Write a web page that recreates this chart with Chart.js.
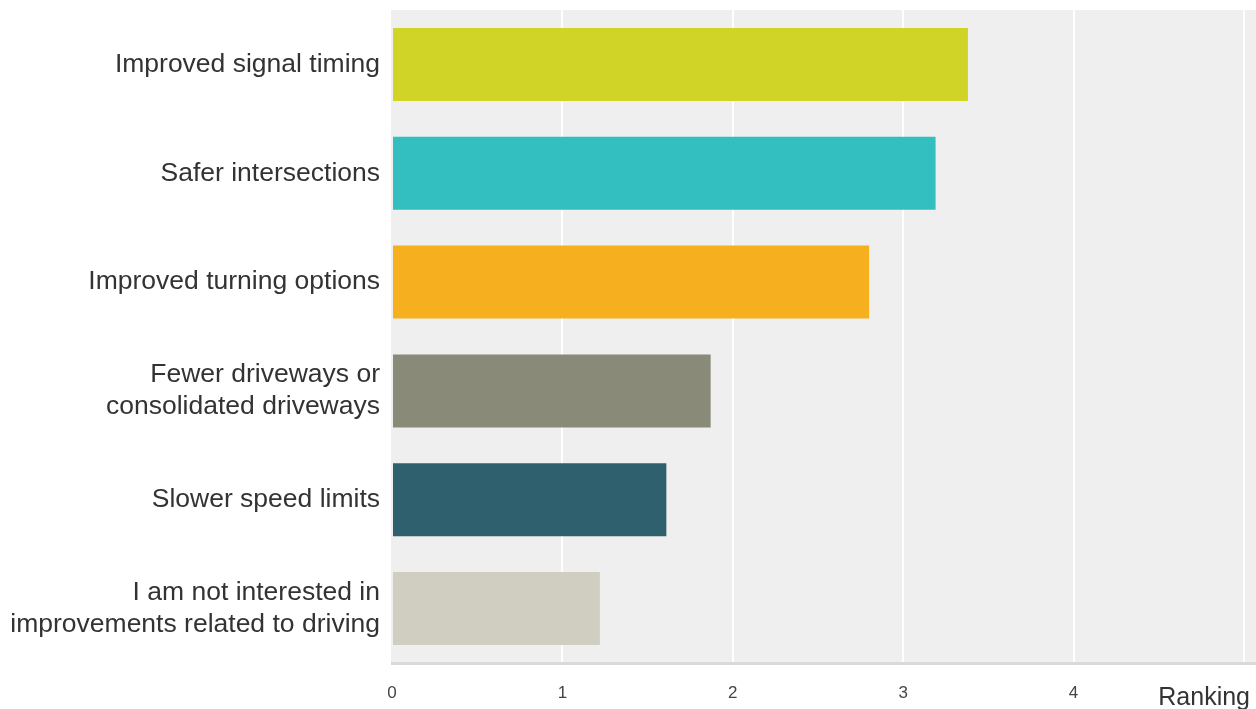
<!DOCTYPE html>
<html>
<head>
<meta charset="utf-8">
<script src="https://cdn.jsdelivr.net/npm/chart.js@4"></script>
<style>
  html, body { margin: 0; padding: 0; background: #fff; }
  #wrap { width: 1256px; height: 709px; }
</style>
</head>
<body>
<div id="wrap"><canvas id="chart" width="1256" height="709"></canvas></div>
<script>

const categories = [
    "Improved signal timing",
    "Safer intersections",
    "Improved turning options",
    ["Fewer driveways or", "consolidated driveways"],
    "Slower speed limits",
    ["I am not interested in", "improvements related to driving"]
];

const rankings = [3.38, 3.19, 2.80, 1.87, 1.61, 1.22];

const barColors = ["#cfd427", "#33bec0", "#f6b01f", "#8a8a79", "#2f606e", "#d0cec0"];

const xTicks = [0, 1, 2, 3, 4, 5];

const axisTitle = "Ranking";


/* ===========================
   PLOT BACKGROUND + AXIS LINE + TITLE
=========================== */

const plotBackground = {
    id: "plotBackground",
    beforeDraw(chart) {
        const c = chart.ctx;
        const a = chart.chartArea;
        c.save();
        c.fillStyle = "#efefef";
        c.fillRect(a.left - 1, a.top, chart.width - a.left + 1, a.bottom - a.top);
        c.restore();
    },
    afterDatasetsDraw(chart) {
        const c = chart.ctx;
        const a = chart.chartArea;
        c.save();
        c.strokeStyle = "#d9d9d9";
        c.lineWidth = 3;
        c.beginPath();
        c.moveTo(a.left - 1, a.bottom + 0.5);
        c.lineTo(chart.width, a.bottom + 0.5);
        c.stroke();
        c.restore();
    }
};

const rankingTitle = {
    id: "rankingTitle",
    afterDraw(chart) {
        const c = chart.ctx;
        c.save();
        c.font = "25px 'Liberation Sans', Arial, sans-serif";
        c.fillStyle = "#333";
        c.textAlign = "right";
        c.textBaseline = "alphabetic";
        c.fillText(axisTitle, 1250, 705);
        c.restore();
    }
};


/* ===========================
   CHART
=========================== */

const chart = new Chart(document.getElementById("chart"), {

    type: "bar",

    data: {
        labels: categories,
        datasets: [{
            data: rankings,
            backgroundColor: barColors,
            borderWidth: 0,
            barPercentage: 0.67,
            categoryPercentage: 1
        }]
    },

    options: {
        indexAxis: "y",
        responsive: false,
        animation: false,
        layout: {
            padding: { top: 10, right: 12, left: 0, bottom: 0 }
        },
        plugins: {
            legend: { display: false },
            tooltip: { enabled: false }
        },
        scales: {
            x: {
                min: 0,
                max: 5,
                afterBuildTicks(scale) {
                    scale.ticks = xTicks.map(v => ({ value: v }));
                },
                afterFit(scale) {
                    scale.height = 46;
                    scale.paddingLeft = 0;
                    scale.paddingRight = 0;
                },
                grid: {
                    color: ctx => ctx.tick && ctx.tick.value === 0 ? "rgba(0,0,0,0)" : "#ffffff",
                    lineWidth: 2,
                    drawTicks: false
                },
                border: { display: false },
                ticks: {
                    padding: 20,
                    color: "#444",
                    font: { family: "'Liberation Sans', Arial, sans-serif", size: 17 },
                    callback: v => v === 5 ? "" : String(v)
                }
            },
            y: {
                afterFit(scale) {
                    scale.width = 392;
                    scale.paddingTop = 0;
                    scale.paddingBottom = 0;
                },
                grid: { display: false, drawTicks: false },
                border: { display: false },
                ticks: {
                    padding: 12,
                    color: "#333",
                    font: { family: "'Liberation Sans', Arial, sans-serif", size: 26.5, lineHeight: 1.2 }
                }
            }
        }
    },

    plugins: [plotBackground, rankingTitle]
});
</script>
</body>
</html>
